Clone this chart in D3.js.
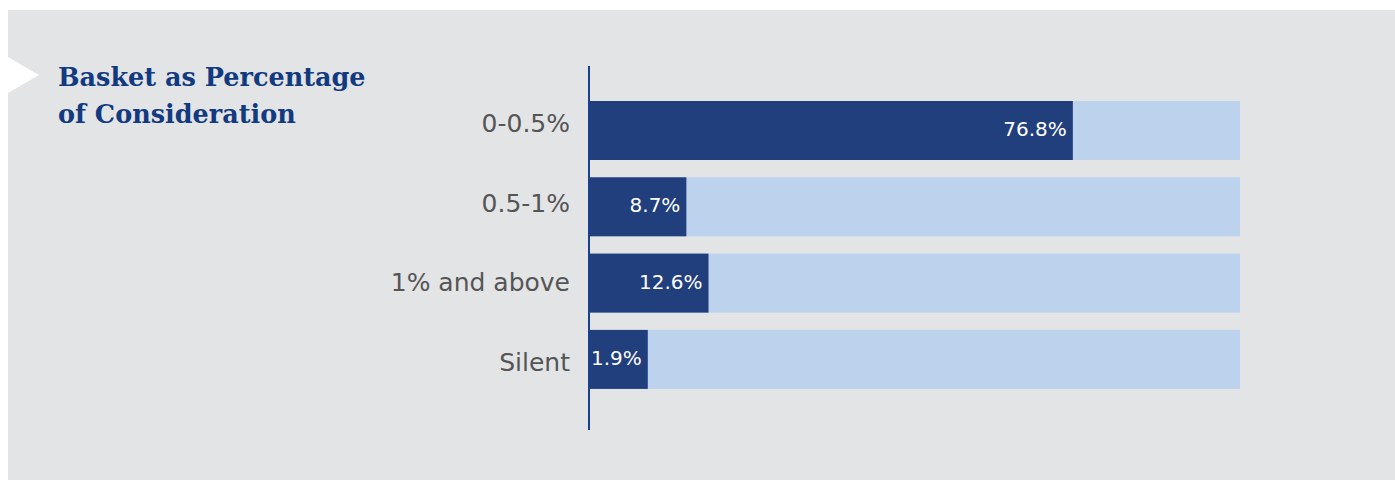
<!DOCTYPE html>
<html>
<head>
<meta charset="utf-8">
<script src="https://cdn.jsdelivr.net/npm/d3@7"></script>
<style>
  html, body { margin: 0; padding: 0; background: #ffffff; }
  svg { display: block; }
</style>
</head>
<body>
<svg id="chart" width="1395" height="480"></svg>
<script>
// Share of deals by basket size (as % of consideration)
const categories = ["0-0.5%", "0.5-1%", "1% and above", "Silent"];
const shares = [76.8, 8.7, 12.6, 1.9];
const titleLines = ["Basket as Percentage", "of Consideration"];

const W = 1395, H = 480;
const svg = d3.select("#chart");

// panel background
svg.append("rect")
  .attr("x", 8).attr("y", 10)
  .attr("width", W - 8).attr("height", H - 10)
  .attr("fill", "#e3e4e6");

// notch marker beside the title
svg.append("path")
  .attr("d", "M8,57 L39,75 L8,93 Z")
  .attr("fill", "#ffffff");

// title
const title = svg.append("text")
  .attr("x", 58).attr("y", 86)
  .attr("font-family", "'DejaVu Serif', serif")
  .attr("font-weight", "bold")
  .attr("font-size", 25.5)
  .attr("fill", "#123a80");
title.selectAll("tspan")
  .data(titleLines)
  .join("tspan")
  .attr("x", 58)
  .attr("dy", (d, i) => i === 0 ? 0 : 37)
  .text(d => d);

// plot area
const plotX = 590, trackW = 650;
const y = d3.scaleBand()
  .domain(categories)
  .range([83.7, 406.2])
  .padding(0.2267);

// category labels sit on a slightly wider spacing than the bars
const yLabel = d3.scalePoint()
  .domain(categories)
  .range([122.3, 361.5]);

// bar length scale (leaves room for the value label at the base)
const x = d3.scaleLinear()
  .domain([0, 100])
  .range([plotX + 47, plotX + 47 + 567.5]);

const g = svg.append("g");

// background tracks
g.selectAll("rect.track")
  .data(categories)
  .join("rect")
  .attr("class", "track")
  .attr("x", plotX)
  .attr("y", d => y(d))
  .attr("width", trackW)
  .attr("height", y.bandwidth())
  .attr("fill", "#bcd2ed");

// value bars
g.selectAll("rect.bar")
  .data(shares)
  .join("rect")
  .attr("class", "bar")
  .attr("x", plotX)
  .attr("y", (d, i) => y(categories[i]))
  .attr("width", d => x(d) - plotX)
  .attr("height", y.bandwidth())
  .attr("fill", "#213e7d");

// value labels
g.selectAll("text.val")
  .data(shares)
  .join("text")
  .attr("class", "val")
  .attr("x", d => x(d) - 6)
  .attr("y", (d, i) => y(categories[i]) + y.bandwidth() / 2 + 5.5)
  .attr("text-anchor", "end")
  .attr("font-family", "'DejaVu Sans', sans-serif")
  .attr("font-size", 20)
  .attr("fill", "#ffffff")
  .text(d => d3.format(".1f")(d) + "%");

// category axis
const axis = d3.axisLeft(yLabel).tickSize(0).tickPadding(20);
const ax = svg.append("g")
  .attr("transform", `translate(${plotX},0)`)
  .call(axis);
ax.select(".domain").remove();
ax.selectAll("text")
  .attr("font-family", "'DejaVu Sans', sans-serif")
  .attr("font-size", 25)
  .attr("fill", "#555555")
  .attr("dy", "0.36em");

// vertical baseline
svg.append("line")
  .attr("x1", plotX - 1).attr("x2", plotX - 1)
  .attr("y1", 66).attr("y2", 430)
  .attr("stroke", "#1a3f8c")
  .attr("stroke-width", 2);
</script>
</body>
</html>
